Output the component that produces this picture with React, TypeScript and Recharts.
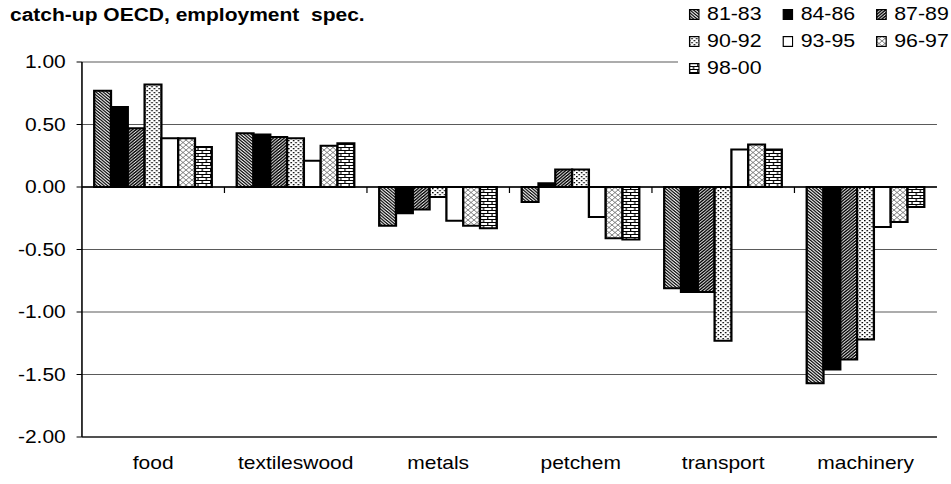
import React from 'react';
import { BarChart, Bar, XAxis, YAxis, CartesianGrid, ReferenceLine, Legend } from 'recharts';

const categories = ['food', 'textileswood', 'metals', 'petchem', 'transport', 'machinery'];
const seriesNames = ['81-83', '84-86', '87-89', '90-92', '93-95', '96-97', '98-00'];
const v8183 = [0.77, 0.43, -0.31, -0.12, -0.81, -1.57];
const v8486 = [0.64, 0.42, -0.21, 0.03, -0.84, -1.46];
const v8789 = [0.47, 0.40, -0.18, 0.14, -0.84, -1.38];
const v9092 = [0.82, 0.39, -0.08, 0.14, -1.23, -1.22];
const v9395 = [0.39, 0.21, -0.27, -0.24, 0.30, -0.32];
const v9697 = [0.39, 0.33, -0.31, -0.41, 0.34, -0.28];
const v9800 = [0.32, 0.35, -0.33, -0.42, 0.30, -0.16];
const yTicks = [-2, -1.5, -1, -0.5, 0, 0.5, 1];

const seriesValues = [v8183, v8486, v8789, v9092, v9395, v9697, v9800];
const keys = ['s1', 's2', 's3', 's4', 's5', 's6', 's7'];
const fills = ['url(#p8183)', '#000000', 'url(#p8789)', 'url(#p9092)', '#ffffff', 'url(#p9697)', 'url(#p9800)'];

const data = categories.map((name, i) => {
  const row: any = { name };
  keys.forEach((k, j) => { row[k] = seriesValues[j][i]; });
  return row;
});

const SX = 1.2;
const W = 951 / SX;
const H = 484;
const FONT = '"Liberation Sans", Arial, sans-serif';

const ZeroLine = (props: any) => {
  const { x1, x2, y1 } = props;
  const n = categories.length;
  const step = (x2 - x1) / n;
  const marks = [];
  for (let i = 1; i < n; i++) {
    marks.push(<line key={i} x1={x1 + step * i} x2={x1 + step * i} y1={y1} y2={y1 + 6} stroke="#000" strokeWidth={1} />);
  }
  return (
    <g>
      <line x1={x1} x2={x2} y1={y1} y2={y1} stroke="#000" strokeWidth={1.3} />
      {marks}
    </g>
  );
};

const colX = [9, 87, 165];
const rowTop = [4, 31, 58];

const LegendBox = () => (
  <div style={{ position: 'relative', width: W - 565, height: 103, background: '#fff', fontFamily: FONT }}>
    {seriesNames.map((n, i) => {
      const col = i % 3;
      const row = Math.floor(i / 3);
      return (
        <div key={n} style={{ position: 'absolute', left: colX[col], top: rowTop[row], height: 20, display: 'flex', alignItems: 'center' }}>
          <svg width={9.2} height={11} style={{ display: 'block' }}>
            <rect x={0.6} y={0.6} width={8} height={9.8} fill={fills[i]} stroke="#000" strokeWidth={1.2} />
          </svg>
          <span style={{ marginLeft: 6, fontSize: 17.8, lineHeight: '20px', color: '#000' }}>{n}</span>
        </div>
      );
    })}
  </div>
);

export default function App() {
  return (
    <div style={{ position: 'absolute', left: 0, top: 0, width: W, height: H, transform: `scaleX(${SX})`, transformOrigin: '0 0', background: '#fff', fontFamily: FONT }}>
      <div style={{ position: 'absolute', left: 8.3, top: 5, fontSize: 17.5, lineHeight: '20px', fontWeight: 'bold', whiteSpace: 'pre', color: '#000', zIndex: 2 }}>
        {'catch-up OECD, employment  spec.'}
      </div>
      <BarChart width={W} height={H} data={data} margin={{ top: 62, right: 11.7, bottom: 0, left: 0 }} barCategoryGap={10.2} barGap={0}>
        <defs>
          <pattern id="p8183" patternUnits="userSpaceOnUse" width={3} height={3}>
            <rect width={3} height={3} fill="#fff" />
            <path d="M0,0 L3,3 M-1,2 L1,4 M2,-1 L4,1" stroke="#000" strokeWidth={1.15} />
          </pattern>
          <pattern id="p8789" patternUnits="userSpaceOnUse" width={3} height={3}>
            <rect width={3} height={3} fill="#fff" />
            <path d="M0,3 L3,0 M-1,1 L1,-1 M2,4 L4,2" stroke="#000" strokeWidth={1.25} />
          </pattern>
          <pattern id="p9092" patternUnits="userSpaceOnUse" width={4} height={4}>
            <rect width={4} height={4} fill="#fff" />
            <rect x={0} y={0} width={1.3} height={1.3} fill="#000" />
            <rect x={2} y={2} width={1.3} height={1.3} fill="#000" />
          </pattern>
          <pattern id="p9697" patternUnits="userSpaceOnUse" width={5} height={5}>
            <rect width={5} height={5} fill="#fff" />
            <path d="M0,0 L5,5 M0,5 L5,0" stroke="#666" strokeWidth={0.75} />
          </pattern>
          <pattern id="p9800" patternUnits="userSpaceOnUse" width={7} height={6}>
            <rect width={7} height={6} fill="#fff" />
            <path d="M0,0.5 L7,0.5 M0,3.5 L7,3.5 M0.5,0.5 L0.5,3.5 M4,3.5 L4,6.5" stroke="#000" strokeWidth={1} />
          </pattern>
        </defs>
        <CartesianGrid horizontal={true} vertical={false} stroke="#5a5a5a" strokeWidth={1} />
        <XAxis dataKey="name" axisLine={{ stroke: '#333', strokeWidth: 1.3 }} tickLine={false} tickSize={0} tickMargin={20} height={47} interval={0}
          tick={{ fill: '#000', fontSize: 17.5, fontFamily: FONT }} />
        <YAxis domain={[-2, 1]} ticks={yTicks} width={68.3} axisLine={{ stroke: '#000', strokeWidth: 1.3 }} tickLine={{ stroke: '#000' }} tickSize={4.5} tickMargin={9}
          tickFormatter={(v: number) => v.toFixed(2)} tick={{ fill: '#000', fontSize: 17.5, fontFamily: FONT }} allowDataOverflow />
        <YAxis yAxisId="r" orientation="right" domain={[-2, 1]} ticks={yTicks} width={0} tick={false} tickLine={false} axisLine={{ stroke: '#404040', strokeWidth: 1.3 }} />
        {keys.map((k, j) => (
          <Bar key={k} dataKey={k} name={seriesNames[j]} fill={fills[j]} stroke="#000" strokeWidth={1.9} isAnimationActive={false} />
        ))}
        <ReferenceLine y={0} shape={ZeroLine} />
        <Legend layout="vertical" align="center" verticalAlign="middle" content={() => <LegendBox />}
          wrapperStyle={{ position: 'absolute', top: 0, left: 565, width: W - 565, height: 103 }} />
      </BarChart>
    </div>
  );
}
